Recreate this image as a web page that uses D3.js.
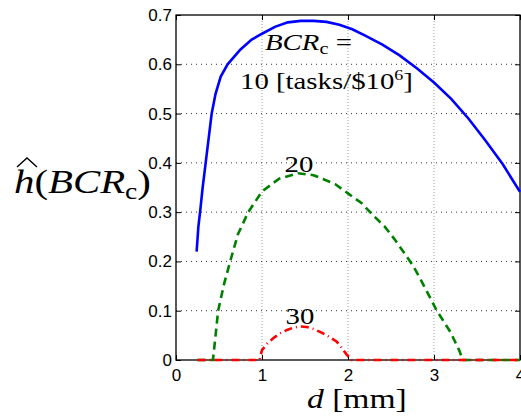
<!DOCTYPE html>
<html>
<head>
<meta charset="utf-8">
<script src="https://cdn.jsdelivr.net/npm/d3@7"></script>
<style>
  body { margin: 0; background: #fff; }
  .math { font-family: "Liberation Serif", "Times New Roman", serif; fill: #000; }
</style>
</head>
<body>
<script>
var width = 521,
    height = 419;

// curve for BCR_c = 10
var dBlue = [0.24, 0.26, 0.28, 0.31, 0.345, 0.38, 0.415, 0.46, 0.52, 0.6, 0.75, 0.88, 1.0, 1.15, 1.3, 1.45, 1.6, 1.75, 1.9, 2.05, 2.2, 2.4, 2.6, 2.8, 3.0, 3.2, 3.4, 3.6, 3.8, 4.0];
var hBlue = [0.22, 0.27, 0.30, 0.35, 0.40, 0.45, 0.50, 0.54, 0.575, 0.60, 0.63, 0.65, 0.662, 0.676, 0.685, 0.688, 0.688, 0.686, 0.68, 0.671, 0.658, 0.64, 0.618, 0.592, 0.563, 0.53, 0.49, 0.445, 0.397, 0.341];

// curve for BCR_c = 20
var dGreen = [0.25, 0.43, 0.49, 0.56, 0.63, 0.72, 0.84, 1.0, 1.2, 1.42, 1.6, 1.85, 2.0, 2.16, 2.29, 2.43, 2.55, 2.65, 2.75, 2.84, 3.03, 3.19, 3.3, 3.33, 4.0];
var hGreen = [0, 0, 0.1, 0.155, 0.2, 0.255, 0.3, 0.342, 0.368, 0.379, 0.375, 0.357, 0.338, 0.318, 0.294, 0.27, 0.243, 0.218, 0.193, 0.165, 0.101, 0.057, 0.017, 0, 0];

// curve for BCR_c = 30
var dRed = [0.25, 0.97, 1.0, 1.06, 1.13, 1.21, 1.29, 1.37, 1.44, 1.52, 1.6, 1.7, 1.8, 1.87, 1.93, 1.98, 2.04, 4.0];
var hRed = [0, 0, 0.02, 0.033, 0.044, 0.054, 0.061, 0.066, 0.068, 0.067, 0.063, 0.055, 0.045, 0.037, 0.024, 0.012, 0, 0];

var xTicks = [0, 1, 2, 3, 4];
var yTicks = [0, 0.1, 0.2, 0.3, 0.4, 0.5, 0.6, 0.7];
var xTickLabels = ["0", "1", "2", "3", "4"];
var yTickLabels = ["0", "0.1", "0.2", "0.3", "0.4", "0.5", "0.6", "0.7"];

// plot box (pixels)
var mLeft = 176, mRight = 520, mTop = 15, mBottom = 360;
var sx = 1.2;   // the figure is stretched sideways a bit

var svg = d3.select('body').append('svg')
    .attr('width', width)
    .attr('height', height);

var x = d3.scaleLinear().domain([0, 4]).range([mLeft, mRight]);
var y = d3.scaleLinear().domain([0, 0.7]).range([mBottom, mTop]);

/* dotted grid */
svg.append('g').selectAll('line')
    .data(xTicks.slice(1, -1))
    .enter().append('line')
    .attr('x1', d => x(d)).attr('x2', d => x(d))
    .attr('y1', mTop).attr('y2', mBottom)
    .attr('stroke', '#999').attr('stroke-width', 1)
    .attr('stroke-dasharray', '1,2');
svg.append('g').selectAll('line')
    .data(yTicks.slice(1, -1))
    .enter().append('line')
    .attr('x1', mLeft).attr('x2', mRight)
    .attr('y1', d => y(d)).attr('y2', d => y(d))
    .attr('stroke', '#333').attr('stroke-width', 1)
    .attr('stroke-dasharray', '1,4');

/* axes, ticks pointing inward */
var xAxis = d3.axisBottom(x).tickValues(xTicks)
    .tickFormat((d, i) => xTickLabels[i]).tickSizeInner(-5).tickSizeOuter(0).tickPadding(9);
var yAxis = d3.axisLeft(y).tickValues(yTicks)
    .tickFormat((d, i) => yTickLabels[i]).tickSizeInner(-5).tickSizeOuter(0).tickPadding(4);

svg.append('g').attr('transform', 'translate(0,' + mBottom + ')').call(xAxis)
    .call(g => g.select('.domain').remove());
svg.append('g').attr('transform', 'translate(' + mLeft + ',0)').call(yAxis)
    .call(g => g.select('.domain').remove());
svg.append('g').attr('transform', 'translate(0,' + mTop + ')')
    .call(d3.axisTop(x).tickValues(xTicks).tickFormat('').tickSizeInner(-5).tickSizeOuter(0))
    .call(g => g.select('.domain').remove());
svg.append('g').attr('transform', 'translate(' + mRight + ',0)')
    .call(d3.axisRight(y).tickValues(yTicks).tickFormat('').tickSizeInner(-5).tickSizeOuter(0))
    .call(g => g.select('.domain').remove());

svg.selectAll('.tick line').attr('stroke', '#000');
svg.selectAll('.tick text')
    .style('font-family', '"Liberation Sans", Arial, sans-serif')
    .style('font-size', '17px')
    .attr('fill', '#000');

svg.append('rect')
    .attr('x', mLeft).attr('y', mTop)
    .attr('width', mRight - mLeft).attr('height', mBottom - mTop)
    .attr('fill', 'none').attr('stroke', '#000').attr('stroke-width', 1.3);

/* curves */
var line = d3.line()
    .x(d => x(d[0]))
    .y(d => y(d[1]));

var plot = svg.append('g');
plot.append('path')
    .attr('d', line(d3.zip(dBlue, hBlue)))
    .attr('fill', 'none').attr('stroke', '#0000ff').attr('stroke-width', 2.6);
plot.append('path')
    .attr('d', line(d3.zip(dGreen, hGreen)))
    .attr('fill', 'none').attr('stroke', '#008000').attr('stroke-width', 2.6)
    .attr('stroke-dasharray', '8,5');
plot.append('path')
    .attr('d', line(d3.zip(dRed, hRed)))
    .attr('fill', 'none').attr('stroke', '#ff0000').attr('stroke-width', 2.6)
    .attr('stroke-dasharray', '8,4,1,4');

function mathText(px, py, size) {
    return svg.append('text').attr('class', 'math')
        .attr('transform', 'translate(' + px + ',' + py + ') scale(' + sx + ',1)')
        .style('font-size', size + 'px');
}

/* annotations */
var t1 = mathText(265, 50, 24);
t1.append('tspan').style('font-style', 'italic').text('BCR');
t1.append('tspan').attr('dy', 4).style('font-size', '17px').text('c');
t1.append('tspan').attr('dy', -4).text(' =');

var t2 = mathText(240, 89, 24);
t2.append('tspan').text('10 [tasks/$10');
t2.append('tspan').attr('dy', -9).style('font-size', '15px').text('6');
t2.append('tspan').attr('dy', 9).text(']');

mathText(299, 172, 24).attr('text-anchor', 'middle').text('20');
mathText(300, 324, 24).attr('text-anchor', 'middle').text('30');

/* axis labels */
var xl = mathText(307, 408, 28);
xl.append('tspan').style('font-style', 'italic').text('d');
xl.append('tspan').text(' [mm]');

var yl = mathText(14, 193, 34);
yl.append('tspan').style('font-style', 'italic').text('h');
yl.append('tspan').text('(');
yl.append('tspan').style('font-style', 'italic').text('BCR');
yl.append('tspan').attr('dy', 6).style('font-size', '23px').text('c');
yl.append('tspan').attr('dy', -6).text(')');

// wide hat over h
svg.append('path')
    .attr('d', 'M17,167 L27,158 L37,167')
    .attr('fill', 'none').attr('stroke', '#000').attr('stroke-width', 1.4);
</script>
</body>
</html>
